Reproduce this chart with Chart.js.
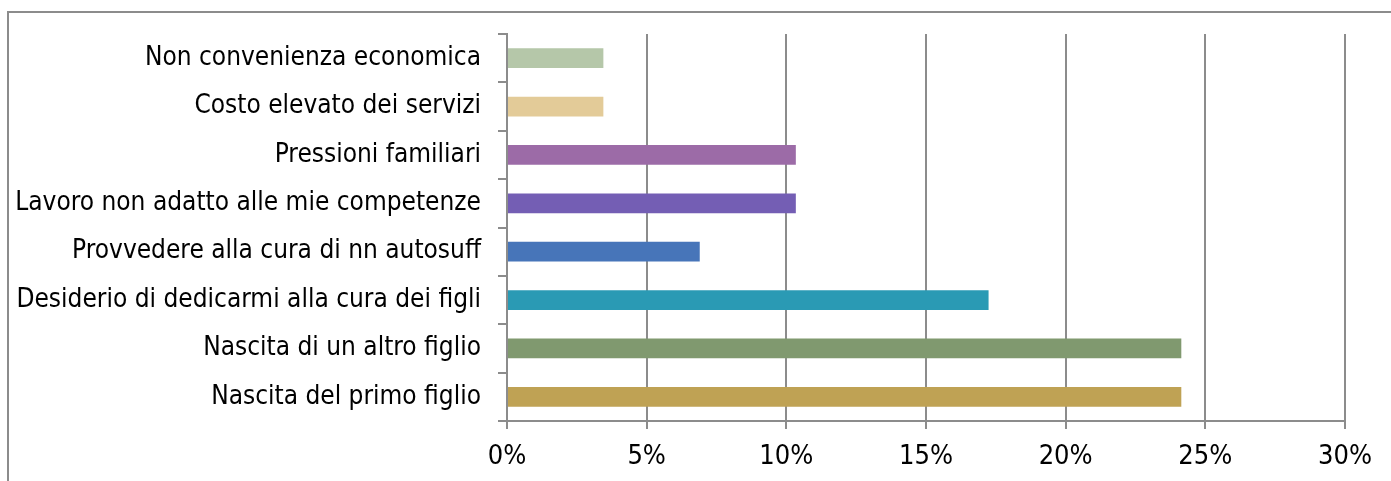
<!DOCTYPE html>
<html>
<head>
<meta charset="utf-8">
<script src="https://cdn.jsdelivr.net/npm/chart.js@4"></script>
<style>
  html, body { margin: 0; padding: 0; background: #fff; overflow: hidden; }
  #wrap { position: relative; width: 1391px; height: 481px; }
  #frame { position: absolute; left: 7px; top: 11px; width: 1500px; height: 600px;
           border-left: 2px solid #8c8c8c; border-top: 2px solid #8c8c8c; }
  canvas { position: absolute; left: 0; top: 0; }
</style>
</head>
<body>
<div id="wrap">
  <div id="frame"></div>
  <canvas id="myChart" width="1391" height="481"></canvas>
</div>
<script>
var labels = [
  'Non convenienza economica',
  'Costo elevato dei servizi',
  'Pressioni familiari',
  'Lavoro non adatto alle mie competenze',
  'Provvedere alla cura di nn autosuff',
  'Desiderio di dedicarmi alla cura dei figli',
  'Nascita di un altro figlio',
  'Nascita del primo figlio'
];
var values = [3.45, 3.45, 10.34, 10.34, 6.9, 17.24, 24.14, 24.14];
var barColors = ['#b5c7a9', '#e3cb98', '#9c6ba7', '#745eb4', '#4775b9', '#2a9ab4', '#80996f', '#bfa254'];
var xTicks = [0, 5, 10, 15, 20, 25, 30];

var axisGray = '#8c8c8c';
var fontFam = '"DejaVu Sans Condensed", "DejaVu Sans", sans-serif';
var ctx = document.getElementById('myChart').getContext('2d');
var myChart = new Chart(ctx, {
  type: 'bar',
  data: {
    labels: labels,
    datasets: [{
      data: values,
      backgroundColor: barColors,
      borderWidth: 0,
      categoryPercentage: 1,
      barPercentage: 0.41
    }]
  },
  options: {
    indexAxis: 'y',
    responsive: false,
    animation: false,
    layout: { padding: { left: 0, right: 46, top: 34, bottom: 0 } },
    plugins: { legend: { display: false }, tooltip: { enabled: false } },
    scales: {
      x: {
        min: 0,
        max: 30,
        afterBuildTicks: function (s) { s.ticks = xTicks.map(function (v) { return { value: v }; }); },
        afterFit: function (s) { s.height = 60; },
        grid: { color: axisGray, lineWidth: 2, tickLength: 8 },
        border: { color: axisGray, width: 2 },
        ticks: {
          padding: 12,
          color: '#000',
          font: { family: fontFam, size: 27 },
          callback: function (v) { return v + '%'; }
        }
      },
      y: {
        afterFit: function (s) { s.width = 507; },
        grid: { drawOnChartArea: false, color: axisGray, lineWidth: 2, tickLength: 9 },
        border: { color: axisGray, width: 2 },
        ticks: {
          padding: 17,
          color: '#000',
          font: { family: fontFam, size: 26 }
        }
      }
    }
  }
});
</script>
</body>
</html>
